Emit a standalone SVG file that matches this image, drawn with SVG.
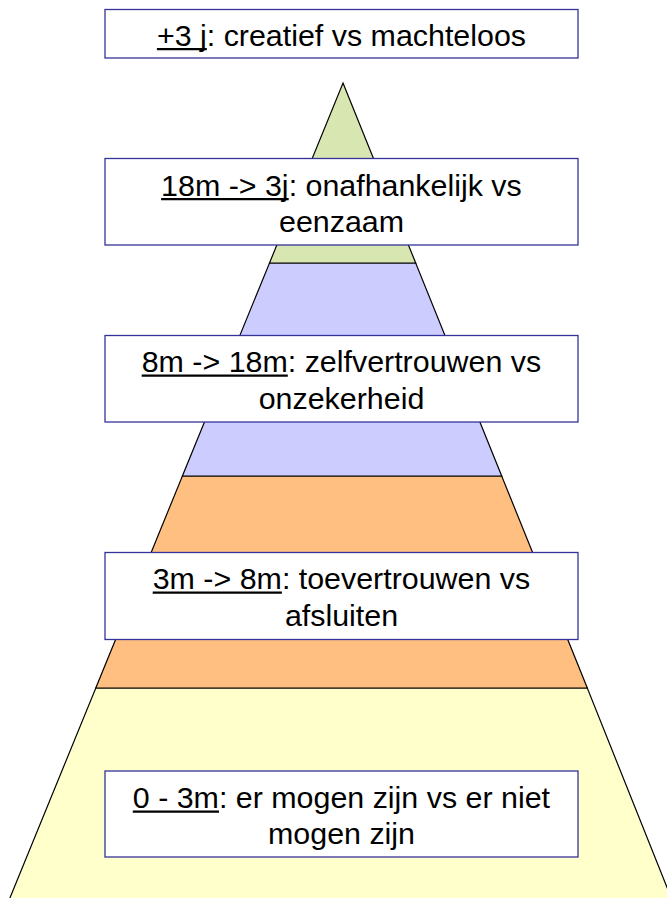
<svg xmlns="http://www.w3.org/2000/svg" width="667" height="898" viewBox="0 0 667 898">
  <style>
    .layer { stroke: #000000; stroke-width: 1.2; stroke-linejoin: miter; }
    .box { fill: #FFFFFF; stroke: #333399; stroke-width: 1.3; }
    .lbl { font-family: "Liberation Sans", Arial, sans-serif; font-size: 30.4px; fill: #000000; }
    .c { text-anchor: middle; }
    .ul { stroke: #000000; stroke-width: 2.2; }
  </style>
  <rect width="667" height="898" fill="#FFFFFF"/>
  <g id="pyramid">
    <g id="layer-yellow"><polygon class="layer" points="95.8,688 587.3,688 676,910 5,910" fill="#FFFFCC"/></g>
    <g id="layer-orange"><polygon class="layer" points="182.4,476 501.7,476 587.3,688 95.8,688" fill="#FFBF80"/></g>
    <g id="layer-blue"><polygon class="layer" points="269.5,263 415.7,263 501.7,476 182.4,476" fill="#CCCCFF"/></g>
    <g id="layer-green"><polygon class="layer" points="343,83 415.7,263 269.5,263" fill="#D8E6B2"/></g>
  </g>
  <g id="box-1">
    <rect class="box" x="105" y="9.5" width="473" height="48.5"/>
    <text class="lbl" x="156.9" y="45.5"><tspan>+3 j</tspan>: creatief vs machteloos</text>
    <line class="ul" x1="156.9" y1="49.2" x2="206.8" y2="49.2"/>
  </g>
  <g id="box-2">
    <rect class="box" x="105" y="158.5" width="473" height="86.5"/>
    <text class="lbl" x="161.1" y="195.5"><tspan>18m -&gt; 3j</tspan>: onafhankelijk vs</text>
    <line class="ul" x1="161.1" y1="199.2" x2="288.7" y2="199.2"/>
    <text class="lbl c" x="341.5" y="231.5">eenzaam</text>
  </g>
  <g id="box-3">
    <rect class="box" x="105" y="335.5" width="473" height="86.5"/>
    <text class="lbl" x="141.7" y="372"><tspan>8m -&gt; 18m</tspan>: zelfvertrouwen vs</text>
    <line class="ul" x1="141.7" y1="375.7" x2="287.8" y2="375.7"/>
    <text class="lbl c" x="341.5" y="408.5">onzekerheid</text>
  </g>
  <g id="box-4">
    <rect class="box" x="105" y="552.5" width="473" height="87"/>
    <text class="lbl" x="152.7" y="589"><tspan>3m -&gt; 8m</tspan>: toevertrouwen vs</text>
    <line class="ul" x1="152.7" y1="592.7" x2="281.9" y2="592.7"/>
    <text class="lbl c" x="341.5" y="625.5">afsluiten</text>
  </g>
  <g id="box-5">
    <rect class="box" x="105" y="771" width="473" height="86"/>
    <text class="lbl" x="132.8" y="808"><tspan>0 - 3m</tspan>: er mogen zijn vs er niet</text>
    <line class="ul" x1="132.8" y1="811.7" x2="219" y2="811.7"/>
    <text class="lbl c" x="341.5" y="844">mogen zijn</text>
  </g>
</svg>
